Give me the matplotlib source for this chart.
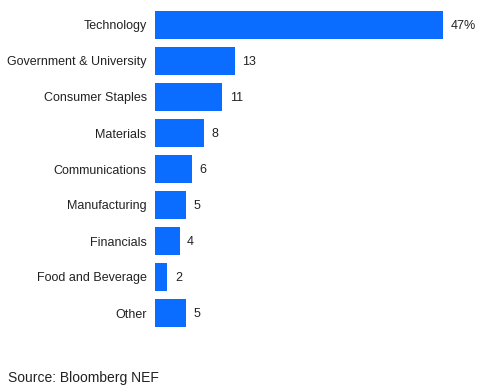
import matplotlib
matplotlib.use("Agg")
import matplotlib.pyplot as plt

categories = ["Technology", "Government & University", "Consumer Staples", "Materials",
              "Communications", "Manufacturing", "Financials", "Food and Beverage", "Other"]
values = [47, 13, 11, 8, 6, 5, 4, 2, 5]
value_labels = ["47%", "13", "11", "8", "6", "5", "4", "2", "5"]

plt.rcParams['font.family'] = ['Liberation Sans', 'DejaVu Sans']

fig = plt.figure(figsize=(4.88, 3.92), dpi=100)
ax = fig.add_axes([155/488, 1 - 331/392, 325/488, 324/392])
y = list(range(len(categories)))
ax.barh(y, values, height=0.78, color='#0a6dff')
ax.set_ylim(len(categories) - 0.5, -0.5)
ax.set_xlim(0, 47 * 325 / 288)
ax.set_yticks(y)
ax.set_yticklabels(categories, fontsize=9, color='#222222')
ax.tick_params(axis='y', length=0, pad=6)
ax.set_xticks([])
for s in ax.spines.values():
    s.set_visible(False)
for yi, v, lab in zip(y, values, value_labels):
    ax.annotate(lab, (v, yi), xytext=(5.5, -1), textcoords='offset points',
                va='center', ha='left', fontsize=9, color='#222222')
fig.text(8/488, 1 - 378/392, "Source: Bloomberg NEF", fontsize=10, va='center', ha='left', color='#222222')
fig.savefig("out.png", dpi=100)
